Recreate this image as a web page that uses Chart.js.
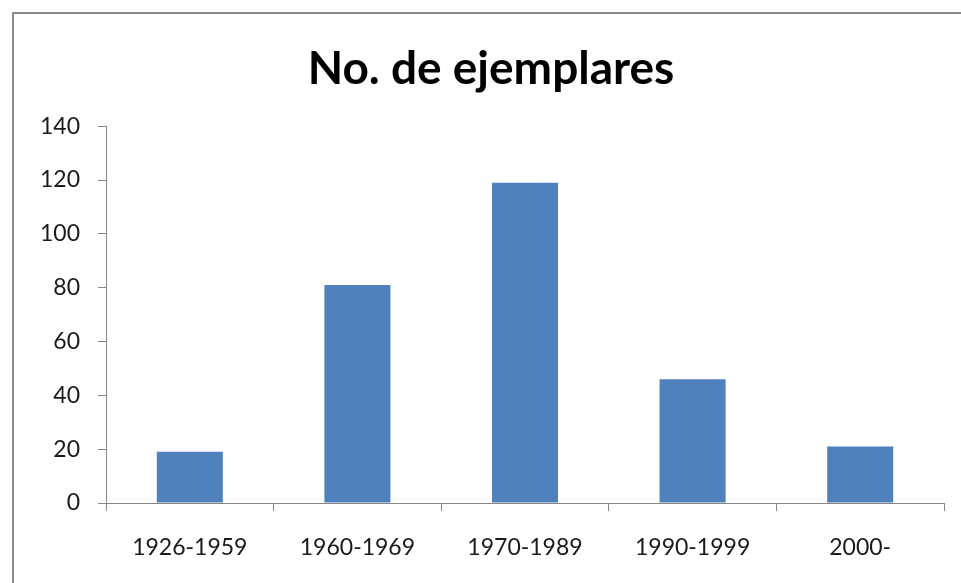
<!DOCTYPE html>
<html>
<head>
<meta charset="utf-8">
<script src="https://cdn.jsdelivr.net/npm/chart.js@4"></script>
<style>
  html, body { margin: 0; padding: 0; background: #fff; }
  #wrap { position: relative; width: 961px; height: 583px; overflow: hidden; }
  #frame { position: absolute; left: 12px; top: 12px; width: 1000px; height: 700px;
           border-left: 2px solid #8a8a8a; border-top: 2px solid #8a8a8a; }
  canvas { position: absolute; left: 0; top: 0; }
</style>
</head>
<body>
<div id="wrap">
  <div id="frame"></div>
  <canvas id="barChart" width="961" height="583"></canvas>
</div>
<script>
const categories = ['1926-1959', '1960-1969', '1970-1989', '1990-1999', '2000-'];
const ejemplares = [19, 81, 119, 46, 21];
const yMin = 0;
const yMax = 140;
const yStep = 20;

const axisColor = '#868686';
const labelFont = { family: 'Lato', size: 23 };

const ctx = document.getElementById('barChart').getContext('2d');

new Chart(ctx, {
    type: 'bar',
    data: {
        labels: categories,
        datasets: [{
            label: 'No. de ejemplares',
            data: ejemplares,
            backgroundColor: '#4F81BD',
            borderWidth: 0,
            barPercentage: 0.394,
            categoryPercentage: 1
        }]
    },
    options: {
        responsive: false,
        animation: false,
        devicePixelRatio: 1,
        layout: {
            // left padding keeps the title centred like the original
            padding: { left: 38, right: 17, top: 0, bottom: 0 }
        },
        plugins: {
            legend: { display: false },
            tooltip: { enabled: false },
            title: {
                display: true,
                text: 'No. de ejemplares',
                color: '#000',
                font: { family: 'Lato', size: 46, weight: 'bold', lineHeight: 1.2 },
                padding: { top: 42, bottom: 29 }
            }
        },
        scales: {
            x: {
                grid: {
                    offset: true,
                    drawOnChartArea: false,
                    tickLength: 8,
                    color: axisColor
                },
                border: { color: axisColor, width: 1 },
                ticks: {
                    color: '#1a1a1a',
                    font: labelFont,
                    padding: 23,
                    maxRotation: 0
                },
                afterFit: function (scale) { scale.height = 80; }
            },
            y: {
                min: yMin,
                max: yMax,
                grid: {
                    drawOnChartArea: false,
                    tickLength: 8,
                    color: axisColor
                },
                border: { color: axisColor, width: 1 },
                ticks: {
                    stepSize: yStep,
                    color: '#1a1a1a',
                    font: labelFont,
                    padding: 18
                },
                afterFit: function (scale) { scale.width = 68; }
            }
        }
    }
});
</script>
</body>
</html>
